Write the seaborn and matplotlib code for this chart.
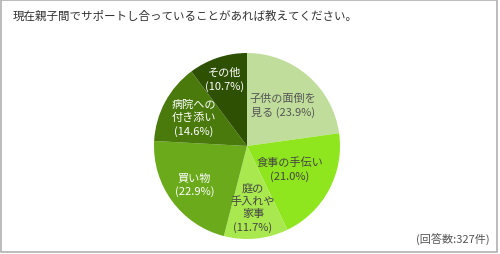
import numpy as np
import matplotlib
matplotlib.use("Agg")
import matplotlib.pyplot as plt
from matplotlib.patches import Rectangle
import seaborn as sns

sns.set_theme(style="white")
plt.rcParams['font.family'] = ['Noto Sans CJK JP', 'DejaVu Sans']

title = "現在親子間でサポートし合っていることがあれば教えてください。"
categories = ["子供の面倒を\n見る", "食事の手伝い", "庭の\n手入れや\n家事", "買い物", "病院への\n付き添い", "その他"]
values = [23.9, 21.0, 11.7, 22.9, 14.6, 10.7]
label_texts = ["子供の面倒を\n見る (23.9%)", "食事の手伝い\n(21.0%)", "庭の\n手入れや\n家事\n(11.7%)",
               "買い物\n(22.9%)", "病院への\n付き添い\n(14.6%)", "その他\n(10.7%)"]
footer = "(回答数:327件)"

colors = sns.color_palette(["#c1dd9c", "#8fe61e", "#a9e94f", "#6aaa1b", "#4a7a0b", "#2d5003"])
text_colors = ["#555555", "#444444", "#444444", "#ffffff", "#ffffff", "#ffffff"]
label_r = [0.59, 0.52, 0.66, 0.70, 0.65, 0.76]

W, H = 500, 255
fig = plt.figure(figsize=(W / 100, H / 100), dpi=100)
fig.patch.set_facecolor("white")

cx, cy, R = 247, 147, 93
ax = fig.add_axes([(cx - R) / W, 1 - (cy + R) / H, 2 * R / W, 2 * R / H])
wedges, _ = ax.pie(values, colors=colors, startangle=90, counterclock=False,
                   radius=1.0, wedgeprops=dict(linewidth=0, antialiased=True))
ax.set_xlim(-1, 1)
ax.set_ylim(-1, 1)
ax.set_aspect("equal")
ax.axis("off")

for w, txt, tc, r in zip(wedges, label_texts, text_colors, label_r):
    mid = np.deg2rad((w.theta1 + w.theta2) / 2)
    ax.text(r * np.cos(mid), r * np.sin(mid), txt, ha="center", va="center",
            fontsize=8, color=tc, linespacing=1.3)

fig.text(13 / W, 1 - 16 / H, title, ha="left", va="center", fontsize=8.3, color="#333333")
fig.text(490 / W, 1 - 240 / H, footer, ha="right", va="center", fontsize=8, color="#555555")

fig.patches.append(Rectangle((0.5 / W, 2.5 / H), (W - 4) / W, (H - 3.5) / H, transform=fig.transFigure,
                             fill=False, edgecolor="#b0b0b0", linewidth=1.2))

fig.savefig("out.png", dpi=100, facecolor="white")
